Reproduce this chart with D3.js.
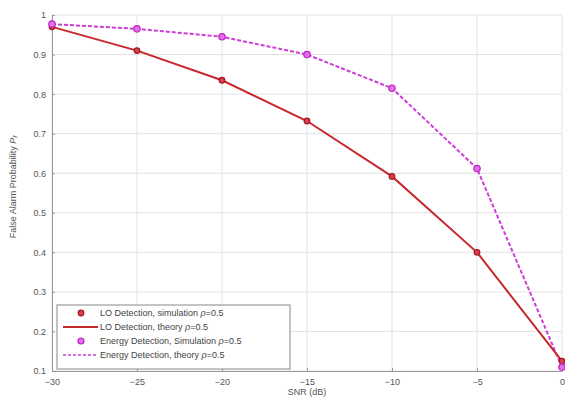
<!DOCTYPE html>
<html><head><meta charset="utf-8">
<script src="https://cdn.jsdelivr.net/npm/d3@7/dist/d3.min.js"></script>
<style>body{margin:0;background:#fff}svg{display:block;font-family:"Liberation Sans",Arial,sans-serif}</style>
</head><body><svg id="c" width="565" height="399"></svg>
<script>
const snr = [-30, -25, -20, -15, -10, -5, 0];
const loSim = [0.97, 0.91, 0.835, 0.732, 0.592, 0.40, 0.125];
const loTheory = [0.97, 0.91, 0.835, 0.732, 0.592, 0.40, 0.125];
const edSim = [0.977, 0.965, 0.945, 0.90, 0.815, 0.612, 0.11];
const edTheory = [0.977, 0.965, 0.945, 0.90, 0.815, 0.612, 0.11];
const xTicks = [-30, -25, -20, -15, -10, -5, 0];
const yTicks = [0.1, 0.2, 0.3, 0.4, 0.5, 0.6, 0.7, 0.8, 0.9, 1];
const legendLabels = ["LO Detection, simulation ", "LO Detection, theory ", "Energy Detection, Simulation ", "Energy Detection, theory "];

const svg = d3.select("#c");
const L = 52, R = 562, T = 15, B = 371;
const x = d3.scaleLinear().domain([-30, 0]).range([L, R]);
const y = d3.scaleLinear().domain([0.1, 1]).range([B, T]);

// grid
const g = svg.append("g");
g.selectAll(".gx").data(xTicks).enter().append("line")
  .attr("x1", d => x(d)).attr("x2", d => x(d)).attr("y1", T).attr("y2", B)
  .attr("stroke", "#e2e2e2").attr("stroke-width", 1);
g.selectAll(".gy").data(yTicks).enter().append("line")
  .attr("y1", d => y(d)).attr("y2", d => y(d)).attr("x1", L).attr("x2", R)
  .attr("stroke", "#e2e2e2").attr("stroke-width", 1);

// axes
const xAxis = d3.axisBottom(x).tickValues(xTicks).tickSize(-3).tickPadding(6).tickFormat(d3.format("d"));
const yAxis = d3.axisLeft(y).tickValues(yTicks).tickSize(-3).tickPadding(6).tickFormat(d => d === 1 ? "1" : d3.format(".1f")(d));
const xa = svg.append("g").attr("transform", `translate(0,${B})`).call(xAxis);
const ya = svg.append("g").attr("transform", `translate(${L},0)`).call(yAxis);
[xa, ya].forEach(a => {
  a.select(".domain").attr("stroke", "#999");
  a.selectAll(".tick line").attr("stroke", "#999");
  a.selectAll("text").attr("fill", "#555").style("font-size", "9px");
});
xa.selectAll("text").attr("dy", "0.9em");

svg.append("text").attr("x", 307).attr("y", 395).attr("text-anchor", "middle")
  .attr("fill", "#555").style("font-size", "9px").text("SNR (dB)");
const yl = svg.append("text").attr("transform", "translate(16,187) rotate(-90)").attr("text-anchor", "middle")
  .attr("fill", "#555").style("font-size", "9px");
yl.append("tspan").text("False Alarm Probability ");
yl.append("tspan").style("font-style", "italic").text("P");
yl.append("tspan").attr("dy", 2).style("font-size", "7px").style("font-style", "italic").text("f");

const red = "#c8282c", mag = "#d03cd8";
const line = d3.line().x((d, i) => x(snr[i])).y(d => y(d));

svg.append("path").datum(edTheory).attr("d", line).attr("fill", "none")
  .attr("stroke", mag).attr("stroke-width", 2).attr("stroke-dasharray", "4,2");
svg.append("path").datum(loTheory).attr("d", line).attr("fill", "none")
  .attr("stroke", red).attr("stroke-width", 2);

svg.selectAll(".lo").data(loSim).enter().append("circle")
  .attr("cx", (d, i) => x(snr[i])).attr("cy", d => y(d)).attr("r", 2.8)
  .attr("fill", "#d84050").attr("stroke", "#a01820").attr("stroke-width", 1.2);
svg.selectAll(".ed").data(edSim).enter().append("circle")
  .attr("cx", (d, i) => x(snr[i])).attr("cy", d => y(d)).attr("r", 3.2)
  .attr("fill", "#e070e8").attr("stroke", "#c020c8").attr("stroke-width", 1.2);

// legend
const lg = svg.append("g");
lg.append("rect").attr("x", 57).attr("y", 305).attr("width", 233).attr("height", 64)
  .attr("fill", "#fff").attr("stroke", "#888").attr("stroke-width", 1);
const ly = [313, 327, 341, 355];
legendLabels.forEach((t, i) => {
  const tx = lg.append("text").attr("x", 100).attr("y", ly[i]).attr("dy", "0.35em")
    .attr("fill", "#444").style("font-size", "9px");
  tx.append("tspan").text(t);
  tx.append("tspan").style("font-style", "italic").text("\u03C1");
  tx.append("tspan").text("=0.5");
});
lg.append("circle").attr("cx", 81).attr("cy", ly[0]).attr("r", 2.8).attr("fill", "#d84050").attr("stroke", "#a01820").attr("stroke-width", 1.2);
lg.append("line").attr("x1", 63).attr("x2", 98).attr("y1", ly[1]).attr("y2", ly[1]).attr("stroke", red).attr("stroke-width", 2);
lg.append("circle").attr("cx", 81).attr("cy", ly[2]).attr("r", 3).attr("fill", "#e070e8").attr("stroke", "#c020c8").attr("stroke-width", 1.2);
lg.append("line").attr("x1", 63).attr("x2", 98).attr("y1", ly[3]).attr("y2", ly[3]).attr("stroke", mag).attr("stroke-width", 1.5).attr("stroke-dasharray", "3,2");
</script></body></html>
